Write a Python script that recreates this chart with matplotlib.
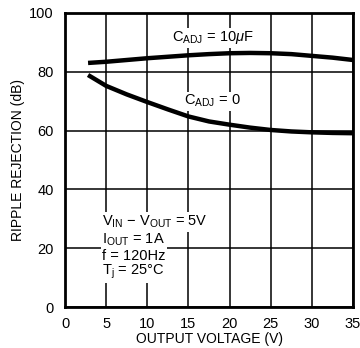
import matplotlib.pyplot as plt

plt.rcParams['font.family'] = ['Liberation Sans', 'DejaVu Sans']
plt.rcParams['mathtext.fontset'] = 'custom'
plt.rcParams['mathtext.rm'] = 'Liberation Sans'
plt.rcParams['mathtext.it'] = 'Liberation Sans:italic'

# Curve readings from the reference
vout_10uf = [2.8, 5, 7.5, 10, 12.5, 15, 17.5, 20, 22.5, 25, 27.5, 30, 32.5, 35]
rr_10uf = [83.0, 83.4, 84.0, 84.6, 85.1, 85.6, 86.0, 86.3, 86.4, 86.3, 86.0, 85.4, 84.8, 84.0]
vout_0 = [2.8, 5, 7.5, 10, 12.5, 15, 17.5, 20, 22.5, 25, 27.5, 30, 32.5, 35]
rr_0 = [78.9, 75.2, 72.3, 69.7, 67.2, 64.8, 63.1, 62.0, 61.0, 60.2, 59.7, 59.4, 59.2, 59.1]

x_ticks = [0, 5, 10, 15, 20, 25, 30, 35]
y_ticks = [0, 20, 40, 60, 80, 100]

fig = plt.figure(figsize=(3.6, 3.48), dpi=100)
ax = fig.add_axes([0.1806, 0.1178, 0.8, 0.845])

ax.plot(vout_10uf, rr_10uf, color='k', linewidth=3.2, solid_capstyle='butt', zorder=3)
ax.plot(vout_0, rr_0, color='k', linewidth=3.2, solid_capstyle='butt', zorder=3)

ax.set_xlim(0, 35)
ax.set_ylim(0, 100)
ax.set_xticks(x_ticks)
ax.set_yticks(y_ticks)
ax.tick_params(length=0, labelsize=10.5)
ax.tick_params(axis='x', pad=7)
ax.tick_params(axis='y', pad=8)
ax.grid(True, color='k', linewidth=1.1)
for s in ax.spines.values():
    s.set_linewidth(2.0)

ax.set_xlabel('OUTPUT VOLTAGE (V)', fontsize=10, labelpad=1)
ax.set_ylabel('RIPPLE REJECTION (dB)', fontsize=10, labelpad=3)

box = dict(facecolor='white', edgecolor='none', pad=1)
ax.text(18.0, 91.5, r'C$_{\mathrm{ADJ}}$ = 10$\mu$F', fontsize=10.5, ha='center',
        va='center', bbox=box, zorder=4)
ax.text(17.9, 70.0, r'C$_{\mathrm{ADJ}}$ = 0', fontsize=10.5, ha='center',
        va='center', bbox=box, zorder=4)

conds = [r'V$_{\mathrm{IN}}$ $-$ V$_{\mathrm{OUT}}$ = 5V',
         r'I$_{\mathrm{OUT}}$ = 1A',
         'f = 120Hz',
         r'T$_{\mathrm{j}}$ = 25°C']
cond_y = [28.9, 22.8, 17.5, 11.9]
for c, yy in zip(conds, cond_y):
    ax.text(4.5, yy, c, fontsize=10.5, ha='left', va='center',
            bbox=box, zorder=4)

fig.savefig('out.png', dpi=100)
